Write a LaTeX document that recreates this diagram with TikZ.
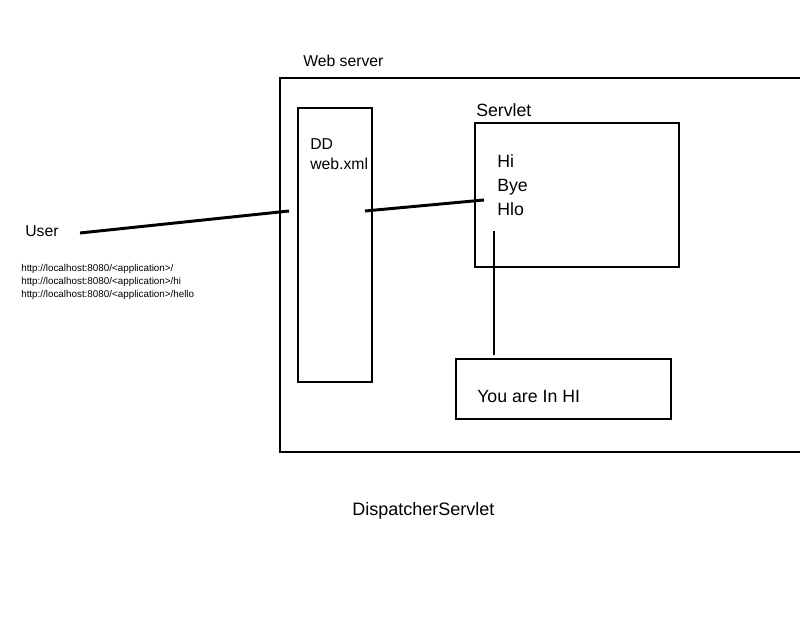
\documentclass[tikz,border=0pt]{standalone}
\usepackage{fontspec}
\setmainfont{Liberation Sans}
\begin{document}
\begin{tikzpicture}[x=0.25mm,y=-0.25mm,
  box/.style={draw,line width=1.4pt},
  wire/.style={line width=2.1pt},
  lbl/.style={anchor=base west,inner sep=0pt,font=\fontsize{12.6}{15}\selectfont},
  small/.style={anchor=base west,inner sep=0pt,font=\fontsize{7}{9.2}\selectfont,align=left}]
\useasboundingbox (0,0) rectangle (800,640);
\clip (0,0) rectangle (800,640);

% boxes
\draw[box] (280,78) rectangle (830,452);
\draw[box] (298,108) rectangle (372,382);
\draw[box] (475,123) rectangle (679,267);
\draw[box] (456,359) rectangle (671,419);

% texts
\node[lbl,font=\fontsize{11.2}{13}\selectfont] (websrv) at (303,67) {Web server};
\node[lbl,font=\fontsize{11.2}{13}\selectfont] (dd) at (310,150) {DD};
\node[lbl,font=\fontsize{11.2}{13}\selectfont] (webxml) at (310,170) {web.xml};
\node[lbl] (servlet) at (476,117) {Servlet};
\node[lbl] (hi) at (497,168) {Hi};
\node[lbl] (bye) at (497,192) {Bye};
\node[lbl] (hlo) at (497,216) {Hlo};
\node[lbl] (youare) at (477,403) {You are In HI};
\node[lbl,font=\fontsize{11.2}{13}\selectfont] (user) at (25,237) {User};
\node[small] (url1) at (21,272) {http://localhost:8080/<application>/};
\node[small] (url2) at (21,285) {http://localhost:8080/<application>/hi};
\node[small] (url3) at (21,298) {http://localhost:8080/<application>/hello};
\node[lbl,font=\fontsize{12.8}{15}\selectfont] (dispatch) at (352,516) {DispatcherServlet};

% connectors
\coordinate (userend) at (80,233);
\coordinate (ddin) at (289,211);
\coordinate (ddout) at (365,211);
\coordinate (srvin) at (484,200);
\coordinate (hitop) at (494,231);
\coordinate (hibot) at (494,355);
\draw[wire] (userend) -- (ddin);
\draw[wire] (ddout) -- (srvin);
\draw[wire] (hitop) -- (hibot);

\end{tikzpicture}
\end{document}
